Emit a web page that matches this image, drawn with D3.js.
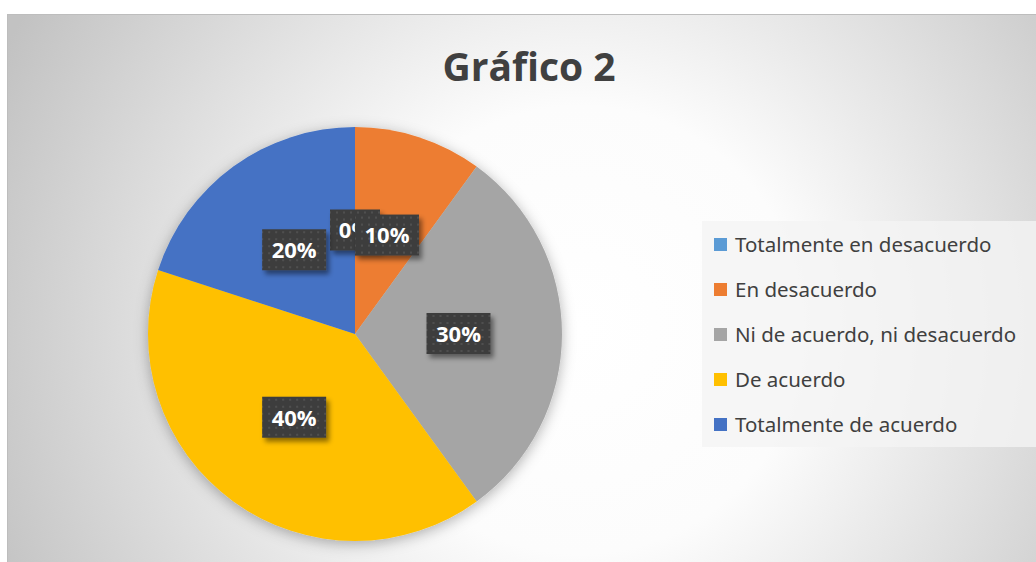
<!DOCTYPE html>
<html>
<head>
<meta charset="utf-8">
<script src="https://cdn.jsdelivr.net/npm/d3@7"></script>
<style>
  body { margin: 0; background: #fff; }
  svg { display: block; }
</style>
</head>
<body>
<script>
// Chart data
var categories = ["Totalmente en desacuerdo", "En desacuerdo", "Ni de acuerdo, ni desacuerdo", "De acuerdo", "Totalmente de acuerdo"];
var values = [0, 10, 30, 40, 20];
var colors = ["#5B9BD5", "#ED7D31", "#A5A5A5", "#FFC000", "#4472C4"];
var title = "Gráfico 2";

// Width and height
var w = 1036;
var h = 562;

var svg = d3.select("body")
            .append("svg")
            .attr("width", w)
            .attr("height", h);

var defs = svg.append("defs");

// background gradient (white centre, grey corners)
var bg = defs.append("radialGradient")
    .attr("id", "bg")
    .attr("gradientUnits", "userSpaceOnUse")
    .attr("cx", 580).attr("cy", 330).attr("r", 640);
bg.append("stop").attr("offset", "0%").attr("stop-color", "#ffffff");
bg.append("stop").attr("offset", "35%").attr("stop-color", "#fcfcfc");
bg.append("stop").attr("offset", "100%").attr("stop-color", "#c2c2c2");

// soft shadow for the pie
var pieShadow = defs.append("filter").attr("id", "pieShadow")
    .attr("x", "-20%").attr("y", "-20%").attr("width", "140%").attr("height", "140%");
pieShadow.append("feDropShadow")
    .attr("dx", 0).attr("dy", 3).attr("stdDeviation", 7)
    .attr("flood-color", "#000").attr("flood-opacity", 0.3);

// shadow for label boxes
var boxShadow = defs.append("filter").attr("id", "boxShadow")
    .attr("x", "-30%").attr("y", "-30%").attr("width", "160%").attr("height", "160%");
boxShadow.append("feDropShadow")
    .attr("dx", 3).attr("dy", 4).attr("stdDeviation", 2.5)
    .attr("flood-color", "#000").attr("flood-opacity", 0.45);

// dotted texture for label boxes
var pat = defs.append("pattern").attr("id", "dots")
    .attr("patternUnits", "userSpaceOnUse")
    .attr("width", 7).attr("height", 7);
pat.append("rect").attr("width", 7).attr("height", 7).attr("fill", "#3d3d3d");
pat.append("rect").attr("x", 2).attr("y", 2).attr("width", 2).attr("height", 2).attr("fill", "#505050");

// chart area
svg.append("rect")
    .attr("x", 7.5).attr("y", 14.5)
    .attr("width", 1060).attr("height", 580)
    .attr("fill", "url(#bg)")
    .attr("stroke", "#bdbdbd").attr("stroke-width", 1);

// title
svg.append("text")
    .attr("x", 529).attr("y", 81)
    .attr("text-anchor", "middle")
    .style("font-family", "'Open Sans', 'Noto Sans', sans-serif")
    .style("font-weight", "bold")
    .style("font-size", "39px")
    .style("fill", "#404040")
    .text(title);

// pie
var cx = 355, cy = 334, r = 207;
var pie = d3.pie().sort(null).value(function(d) { return d; });
var arcs = pie(values);
var arc = d3.arc().innerRadius(0).outerRadius(r);
var labelArc = d3.arc().innerRadius(0).outerRadius(r);

var g = svg.append("g").attr("transform", "translate(" + cx + "," + cy + ")");

g.append("g").attr("filter", "url(#pieShadow)")
  .selectAll("path")
  .data(arcs)
  .enter()
  .append("path")
  .attr("d", arc)
  .attr("fill", function(d, i) { return colors[i]; });

// data labels
var fmt = function(v) { return v + "%"; };
var labels = g.selectAll("g.lbl")
  .data(arcs)
  .enter()
  .append("g")
  .attr("class", "lbl")
  .attr("transform", function(d) {
      var c = labelArc.centroid(d);
      return "translate(" + c[0] + "," + c[1] + ")";
  });

labels.append("rect")
  .attr("x", function(d) { return d.data < 10 ? -25 : -32; })
  .attr("y", -21)
  .attr("width", function(d) { return d.data < 10 ? 50 : 64; })
  .attr("height", 41)
  .attr("fill", "url(#dots)")
  .attr("filter", "url(#boxShadow)");

labels.append("text")
  .attr("text-anchor", "middle")
  .attr("dy", "0.36em")
  .style("font-family", "'Open Sans', 'Noto Sans', sans-serif")
  .style("font-weight", "bold")
  .style("font-size", "22px")
  .style("fill", "#fff")
  .text(function(d) { return fmt(d.data); });

// legend
var legend = svg.append("g");
legend.append("rect")
  .attr("x", 702).attr("y", 221)
  .attr("width", 340).attr("height", 226)
  .attr("fill", "#f4f4f4").attr("fill-opacity", 0.8);

var ly = d3.scalePoint().domain(categories).range([244.5, 424.5]);

var items = legend.selectAll("g.item")
  .data(categories)
  .enter()
  .append("g")
  .attr("class", "item")
  .attr("transform", function(d) { return "translate(714," + ly(d) + ")"; });

items.append("rect")
  .attr("x", 0).attr("y", -6.5)
  .attr("width", 13).attr("height", 13)
  .attr("fill", function(d, i) { return colors[i]; });

items.append("text")
  .attr("x", 21)
  .attr("dy", "0.36em")
  .style("font-family", "'Noto Sans', sans-serif")
  .style("font-size", "20.5px")
  .style("fill", "#404040")
  .text(function(d) { return d; });
</script>
</body>
</html>
